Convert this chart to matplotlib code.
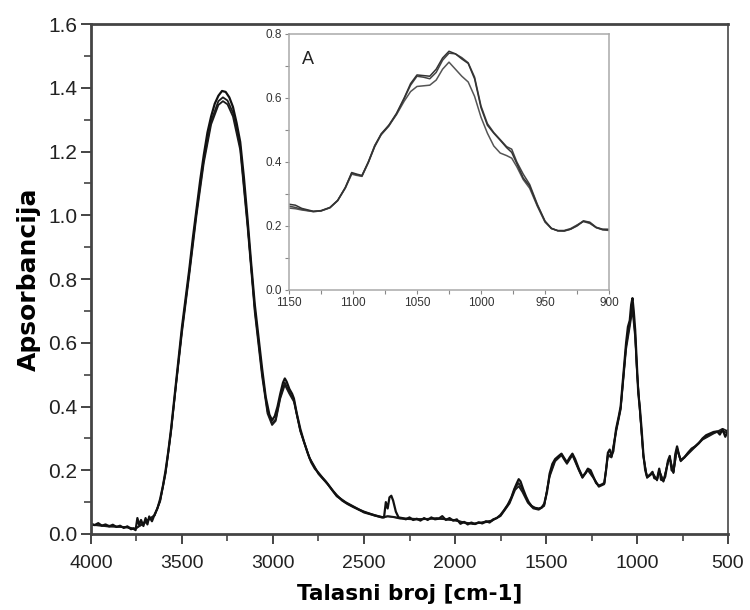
import numpy as np
import matplotlib
matplotlib.use("Agg")
import matplotlib.pyplot as plt
from matplotlib.ticker import MultipleLocator

# ==============================
# Data
# ==============================

# main spectrum, curve 1 (noisiest / top)
wn_1 = [4000, 3980, 3960, 3940, 3920, 3900, 3880, 3860, 3840, 3820, 3800, 3780,
        3765, 3755, 3745, 3735, 3725, 3712, 3700, 3690, 3680, 3665, 3650, 3635,
        3620, 3605, 3590, 3575, 3560, 3545, 3530, 3515, 3500, 3480, 3460, 3440,
        3420, 3400, 3380, 3360, 3340, 3320, 3300, 3280, 3260, 3240, 3220, 3200,
        3180, 3160, 3140, 3120, 3100, 3080, 3060, 3040, 3020, 3005, 2990, 2975,
        2960, 2945, 2935, 2925, 2910, 2895, 2885, 2870, 2850, 2830, 2810, 2790,
        2770, 2750, 2730, 2710, 2690, 2670, 2650, 2620, 2590, 2560, 2530, 2500,
        2470, 2440, 2410, 2390, 2380, 2370, 2360, 2350, 2340, 2325, 2310, 2290,
        2270, 2250, 2230, 2210, 2190, 2170, 2150, 2130, 2110, 2090, 2070, 2050,
        2030, 2010, 1990, 1970, 1950, 1930, 1910, 1890, 1870, 1850, 1830, 1810,
        1790, 1770, 1750, 1730, 1710, 1690, 1675, 1660, 1650, 1640, 1625, 1610,
        1595, 1580, 1560, 1540, 1525, 1510, 1495, 1480, 1465, 1450, 1430, 1415,
        1400, 1385, 1370, 1355, 1340, 1320, 1300, 1285, 1270, 1255, 1240, 1225,
        1210, 1195, 1180, 1170, 1160, 1150, 1140, 1130, 1115, 1100, 1090, 1075,
        1060, 1050, 1040, 1032, 1025, 1018, 1010, 1000, 993, 985, 975, 965,
        955, 945, 930, 915, 905, 890, 878, 868, 855, 845, 830, 820,
        810, 800, 790, 780, 770, 760, 740, 720, 700, 680, 660, 640,
        620, 600, 580, 560, 545, 530, 515, 500]
abs_1 = [0.032, 0.028, 0.034, 0.026, 0.030, 0.024, 0.029, 0.022, 0.026, 0.019, 0.024, 0.015,
         0.018, 0.012, 0.050, 0.028, 0.044, 0.025, 0.050, 0.030, 0.055, 0.040, 0.062, 0.080,
         0.110, 0.150, 0.200, 0.260, 0.330, 0.410, 0.490, 0.570, 0.650, 0.740, 0.830, 0.930,
         1.020, 1.110, 1.190, 1.260, 1.310, 1.350, 1.375, 1.390, 1.387, 1.370, 1.340, 1.290,
         1.230, 1.120, 0.990, 0.850, 0.720, 0.620, 0.520, 0.430, 0.375, 0.357, 0.370, 0.400,
         0.440, 0.475, 0.488, 0.478, 0.455, 0.440, 0.425, 0.380, 0.330, 0.290, 0.255, 0.225,
         0.205, 0.192, 0.178, 0.165, 0.150, 0.135, 0.122, 0.105, 0.094, 0.085, 0.077, 0.070,
         0.064, 0.058, 0.054, 0.052, 0.100, 0.080, 0.115, 0.120, 0.105, 0.070, 0.052, 0.050,
         0.046, 0.052, 0.044, 0.048, 0.042, 0.050, 0.044, 0.052, 0.046, 0.048, 0.056, 0.044,
         0.050, 0.042, 0.046, 0.032, 0.038, 0.030, 0.036, 0.031, 0.037, 0.033, 0.040, 0.036,
         0.046, 0.050, 0.060, 0.075, 0.092, 0.115, 0.140, 0.160, 0.172, 0.165, 0.140, 0.118,
         0.100, 0.088, 0.082, 0.080, 0.082, 0.095, 0.130, 0.190, 0.220, 0.235, 0.245, 0.252,
         0.238, 0.225, 0.240, 0.252, 0.235, 0.205, 0.180, 0.190, 0.205, 0.200, 0.180, 0.160,
         0.152, 0.155, 0.160, 0.200, 0.255, 0.265, 0.245, 0.260, 0.330, 0.370, 0.400, 0.500,
         0.600, 0.650, 0.670, 0.720, 0.740, 0.700, 0.640, 0.520, 0.440, 0.400, 0.330, 0.250,
         0.200, 0.180, 0.185, 0.195, 0.175, 0.172, 0.205, 0.170, 0.168, 0.180, 0.230, 0.245,
         0.200, 0.195, 0.250, 0.275, 0.250, 0.232, 0.240, 0.255, 0.268, 0.275, 0.285, 0.300,
         0.310, 0.315, 0.320, 0.322, 0.312, 0.328, 0.305, 0.325]

# main spectrum, curve 2
wn_2 = [4000, 3900, 3800, 3760, 3700, 3650, 3620, 3590, 3560, 3530, 3500, 3460,
        3420, 3380, 3340, 3300, 3275, 3250, 3220, 3180, 3140, 3100, 3060, 3030,
        3005, 2985, 2960, 2935, 2910, 2885, 2850, 2800, 2750, 2700, 2650, 2600,
        2500, 2400, 2370, 2340, 2300, 2200, 2100, 2000, 1950, 1900, 1850, 1800,
        1750, 1700, 1670, 1650, 1630, 1600, 1570, 1540, 1510, 1480, 1450, 1415,
        1400, 1385, 1355, 1320, 1300, 1270, 1240, 1210, 1180, 1160, 1140, 1115,
        1090, 1060, 1040, 1025, 1010, 1000, 985, 965, 945, 915, 890, 878,
        855, 830, 820, 800, 780, 760, 700, 640, 580, 530, 500]
abs_2 = [0.028, 0.026, 0.020, 0.014, 0.040, 0.058, 0.105, 0.195, 0.325, 0.485, 0.640, 0.820,
         1.010, 1.175, 1.295, 1.358, 1.370, 1.360, 1.322, 1.215, 0.975, 0.705, 0.505, 0.385,
         0.347, 0.360, 0.430, 0.475, 0.445, 0.420, 0.325, 0.240, 0.190, 0.158, 0.120, 0.100,
         0.069, 0.053, 0.056, 0.054, 0.050, 0.047, 0.048, 0.044, 0.035, 0.033, 0.035, 0.040,
         0.058, 0.100, 0.145, 0.160, 0.140, 0.102, 0.083, 0.078, 0.090, 0.185, 0.232, 0.250,
         0.236, 0.223, 0.250, 0.203, 0.178, 0.203, 0.178, 0.150, 0.158, 0.250, 0.243, 0.325,
         0.395, 0.590, 0.660, 0.720, 0.625, 0.510, 0.395, 0.245, 0.178, 0.192, 0.170, 0.200,
         0.166, 0.226, 0.240, 0.193, 0.270, 0.230, 0.265, 0.298, 0.318, 0.322, 0.318]

# main spectrum, curve 3
wn_3 = [4000, 3900, 3800, 3760, 3700, 3650, 3620, 3590, 3560, 3530, 3500, 3460,
        3420, 3380, 3340, 3300, 3275, 3250, 3220, 3180, 3140, 3100, 3060, 3030,
        3005, 2985, 2960, 2935, 2910, 2885, 2850, 2800, 2750, 2700, 2650, 2600,
        2500, 2400, 2370, 2340, 2300, 2200, 2100, 2000, 1950, 1900, 1850, 1800,
        1750, 1700, 1670, 1650, 1630, 1600, 1570, 1540, 1510, 1480, 1450, 1415,
        1400, 1385, 1355, 1320, 1300, 1270, 1240, 1210, 1180, 1160, 1140, 1115,
        1090, 1060, 1040, 1025, 1010, 1000, 985, 965, 945, 915, 890, 878,
        855, 830, 820, 800, 780, 760, 700, 640, 580, 530, 500]
abs_3 = [0.030, 0.023, 0.022, 0.016, 0.036, 0.060, 0.102, 0.190, 0.320, 0.480, 0.632, 0.812,
         1.000, 1.165, 1.285, 1.346, 1.358, 1.348, 1.310, 1.205, 0.965, 0.695, 0.495, 0.378,
         0.342, 0.355, 0.425, 0.468, 0.440, 0.415, 0.322, 0.238, 0.188, 0.156, 0.118, 0.098,
         0.067, 0.051, 0.055, 0.053, 0.048, 0.045, 0.050, 0.042, 0.037, 0.031, 0.037, 0.042,
         0.056, 0.096, 0.138, 0.150, 0.132, 0.098, 0.080, 0.076, 0.088, 0.180, 0.228, 0.247,
         0.233, 0.220, 0.247, 0.200, 0.176, 0.200, 0.176, 0.148, 0.156, 0.246, 0.240, 0.320,
         0.390, 0.580, 0.650, 0.705, 0.615, 0.505, 0.390, 0.242, 0.176, 0.190, 0.168, 0.198,
         0.164, 0.224, 0.238, 0.191, 0.268, 0.228, 0.262, 0.296, 0.315, 0.330, 0.322]

# inset "A" (1150 - 900 cm-1)
wn_in = [1150, 1145, 1140, 1131, 1125, 1118, 1112, 1106, 1101, 1097, 1093, 1088,
         1083, 1078, 1072, 1066, 1060, 1055, 1050, 1045, 1040, 1035, 1030, 1025,
         1020, 1015, 1010, 1005, 1000, 995, 990, 985, 980, 976, 972, 967,
         962, 956, 950, 945, 940, 935, 930, 925, 920, 915, 910, 905, 900]
in_1 = [0.268, 0.265, 0.255, 0.246, 0.248, 0.258, 0.280, 0.320, 0.367, 0.362, 0.358, 0.400,
        0.450, 0.488, 0.515, 0.552, 0.600, 0.645, 0.672, 0.670, 0.668, 0.690, 0.725, 0.746,
        0.738, 0.722, 0.708, 0.660, 0.570, 0.515, 0.490, 0.468, 0.445, 0.430, 0.395, 0.350,
        0.325, 0.265, 0.215, 0.193, 0.185, 0.185, 0.190, 0.200, 0.215, 0.210, 0.195, 0.189, 0.188]
in_2 = [0.262, 0.258, 0.252, 0.245, 0.247, 0.257, 0.279, 0.320, 0.365, 0.360, 0.355, 0.398,
        0.448, 0.485, 0.512, 0.550, 0.598, 0.640, 0.668, 0.665, 0.660, 0.680, 0.718, 0.740,
        0.738, 0.726, 0.710, 0.665, 0.575, 0.520, 0.492, 0.470, 0.448, 0.440, 0.400, 0.362,
        0.330, 0.268, 0.215, 0.192, 0.185, 0.184, 0.190, 0.202, 0.216, 0.212, 0.196, 0.190, 0.190]
in_3 = [0.256, 0.254, 0.250, 0.245, 0.247, 0.257, 0.279, 0.318, 0.362, 0.358, 0.356, 0.400,
        0.452, 0.486, 0.514, 0.548, 0.590, 0.620, 0.636, 0.638, 0.640, 0.656, 0.690, 0.712,
        0.690, 0.668, 0.650, 0.605, 0.540, 0.490, 0.450, 0.428, 0.420, 0.412, 0.385, 0.345,
        0.318, 0.262, 0.212, 0.192, 0.186, 0.186, 0.192, 0.203, 0.214, 0.208, 0.195, 0.188, 0.186]

x_ticks = [4000, 3500, 3000, 2500, 2000, 1500, 1000, 500]
y_ticks = [0.0, 0.2, 0.4, 0.6, 0.8, 1.0, 1.2, 1.4, 1.6]
in_x_ticks = [1150, 1100, 1050, 1000, 950, 900]
in_y_ticks = [0.0, 0.2, 0.4, 0.6, 0.8]

# ==============================
# Main plot
# ==============================

plt.rcParams["font.family"] = ["Liberation Sans", "DejaVu Sans"]

fig = plt.figure(figsize=(7.5, 6.1), dpi=100)
ax = fig.add_axes([0.1213, 0.1246, 0.8494, 0.836])

ax.plot(wn_3, abs_3, color="#1a1a1a", lw=1.3)
ax.plot(wn_2, abs_2, color="#1a1a1a", lw=1.3)
ax.plot(wn_1, abs_1, color="#111111", lw=1.6)

ax.set_xlim(4000, 500)
ax.set_ylim(0, 1.6)
ax.set_xticks(x_ticks)
ax.set_yticks(y_ticks)
ax.set_yticklabels([f"{v:.1f}" for v in y_ticks])
ax.xaxis.set_minor_locator(MultipleLocator(250))
ax.yaxis.set_minor_locator(MultipleLocator(0.1))
ax.tick_params(which="major", direction="out", length=7, width=1.4,
               color="#444444", labelcolor="#222222")
ax.tick_params(which="minor", direction="out", length=5, width=1.2, color="#444444")
ax.tick_params(axis="y", labelsize=15, pad=3)
ax.tick_params(axis="x", labelsize=14, pad=8)

for side in ["left", "bottom", "top"]:
    ax.spines[side].set_linewidth(2)
    ax.spines[side].set_color("#444444")
ax.spines["right"].set_linewidth(1.3)
ax.spines["right"].set_color("#555555")

ax.set_xlabel("Talasni broj [cm-1]", fontsize=15.5, fontweight="bold",
              family="DejaVu Sans", labelpad=9)
ax.set_ylabel("Apsorbancija", fontsize=18, fontweight="bold",
              family="DejaVu Sans", labelpad=5)

# ==============================
# Inset
# ==============================

ins = fig.add_axes([0.3853, 0.5246, 0.4267, 0.4197])
ins.plot(wn_in, in_3, color="#555555", lw=1.1)
ins.plot(wn_in, in_2, color="#444444", lw=1.1)
ins.plot(wn_in, in_1, color="#333333", lw=1.1)

ins.set_xlim(1150, 900)
ins.set_ylim(0, 0.8)
ins.set_xticks(in_x_ticks)
ins.set_yticks(in_y_ticks)
ins.set_yticklabels([f"{v:.1f}" for v in in_y_ticks])
ins.xaxis.set_minor_locator(MultipleLocator(25))
ins.yaxis.set_minor_locator(MultipleLocator(0.1))
ins.tick_params(which="both", direction="out", length=3, width=0.8,
                color="#888888", labelcolor="#333333", labelsize=8.5, pad=2)
for side in ins.spines:
    ins.spines[side].set_color("#aaaaaa")
    ins.spines[side].set_linewidth(1.1)

ins.text(1140, 0.705, "A", fontsize=13, color="#222222")

fig.savefig("out.png", dpi=100)
